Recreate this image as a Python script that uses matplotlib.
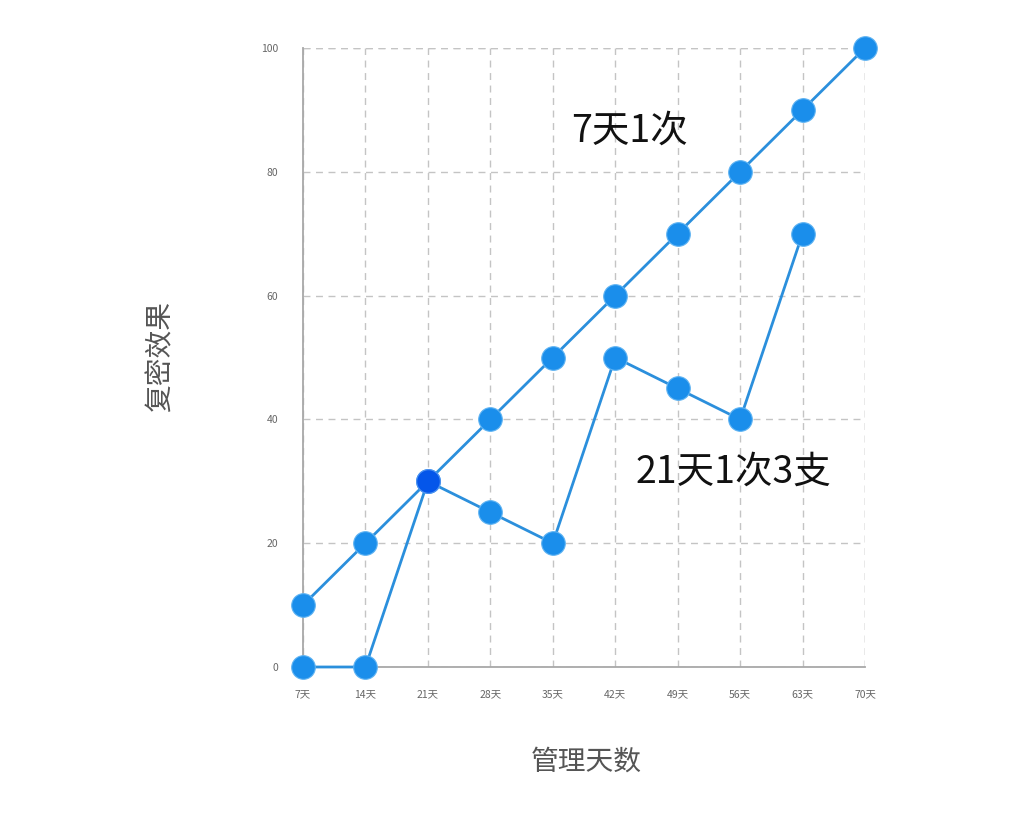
import matplotlib.pyplot as plt

plt.rcParams['font.family'] = ['Noto Sans CJK SC', 'DejaVu Sans']

# categories and series
days = ['7天', '14天', '21天', '28天', '35天', '42天', '49天', '56天', '63天', '70天']
weekly = [10, 20, 30, 40, 50, 60, 70, 80, 90, 100]        # 7天1次
three_weeks = [0, 0, 30, 25, 20, 50, 45, 40, 70]         # 21天1次3支
highlight_idx = 2

line_c = '#2b8fdc'
dot_c = '#1a8eeb'
hi_c = '#0456ea'

fig = plt.figure(figsize=(10.24, 8.19), dpi=100)
ax = fig.add_axes([303 / 1024, 1 - 667 / 819, (865 - 303) / 1024, (667 - 48) / 819])

x1 = list(range(len(weekly)))
x2 = list(range(len(three_weeks)))

ax.plot(x1, weekly, color=line_c, lw=2.0, zorder=3, clip_on=False)
ax.plot(x2, three_weeks, color=line_c, lw=2.0, zorder=3, clip_on=False)
ax.plot(x1, weekly, 'o', color=dot_c, ms=17, mec='#5fb3f2', mew=0.8, zorder=4, clip_on=False)
ax.plot(x2, three_weeks, 'o', color=dot_c, ms=17, mec='#5fb3f2', mew=0.8, zorder=4, clip_on=False)
ax.plot(x1[highlight_idx], weekly[highlight_idx], 'o', color=hi_c, ms=17,
        mec='#4d8ff0', mew=0.8, zorder=5, clip_on=False)

ax.set_xlim(0, len(days) - 1)
ax.set_ylim(0, 100)
ax.set_xticks(x1)
ax.set_xticklabels(days)
ax.set_yticks([0, 20, 40, 60, 80, 100])
ax.tick_params(axis='both', length=0, labelsize=7.5, colors='#666666')
ax.tick_params(axis='x', pad=16)
ax.tick_params(axis='y', pad=18)

for s in ['top', 'right']:
    ax.spines[s].set_visible(False)
for s in ['left', 'bottom']:
    ax.spines[s].set_color('#a8a8a8')
    ax.spines[s].set_linewidth(1.3)

ax.grid(True, ls=(0, (5, 4)), color='#c4c4c4', lw=1.0, zorder=0)
ax.axhline(100, ls=(0, (5, 4)), color='#c4c4c4', lw=1.0, zorder=0)
ax.axvline(len(days) - 1, ls=(0, (5, 4)), color='#c4c4c4', lw=1.0, zorder=0)

ax.text(4.3, 86.6, '7天1次', fontsize=27, color='#111111', ha='left', va='center')
ax.text(5.33, 31.5, '21天1次3支', fontsize=27, color='#111111', ha='left', va='center')

fig.text(160 / 1024, 1 - 357 / 819, '复密效果', rotation=90, fontsize=20,
         color='#555555', ha='center', va='center')
fig.text(586 / 1024, 1 - 762 / 819, '管理天数', fontsize=20,
         color='#555555', ha='center', va='center')

fig.savefig('out.png', dpi=100, facecolor='white')
